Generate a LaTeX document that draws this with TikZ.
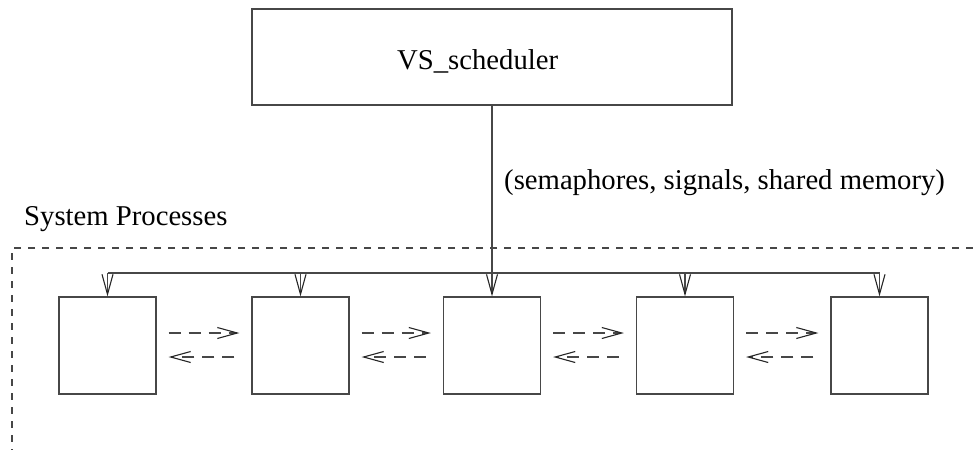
\documentclass[tikz,border=0pt]{standalone}
\usepackage{fontspec}
\setmainfont{Liberation Serif}
\usetikzlibrary{arrows.meta,calc}
\tikzset{
  ln/.style={draw=black!72, line width=1.2pt},
  pbox/.style={ln, minimum width=97pt, minimum height=97pt, inner sep=0pt},
  arr/.style={ln, -{Straight Barb[length=20pt,width=11pt,line width=1.1pt,color=black!85]}},
  darr/.style={arr, dash pattern=on 12pt off 8pt},
  border/.style={ln, dash pattern=on 7pt off 7pt},
  lbl/.style={inner sep=0pt, anchor=base west, font=\fontsize{28.7}{32}\selectfont}
}
\begin{document}
\begin{tikzpicture}[x=1pt,y=-1pt]
\useasboundingbox (0,0) rectangle (973,450);
\node[ln, minimum width=480pt, minimum height=96pt, inner sep=0pt] (sched) at (492,57) {};
\node[lbl] (schedtext) at (397,69) {VS\_scheduler};
\node[lbl] (ipc) at (504,189) {(semaphores, signals, shared memory)};
\node[lbl] (sysproc) at (24,225) {System Processes};
\draw[border] (973,248) -- (12,248) -- (12,450);
\node[pbox] (p1) at (107.5,345.5) {};
\node[pbox] (p2) at (300.5,345.5) {};
\node[pbox] (p3) at (492,345.5) {};
\node[pbox] (p4) at (685,345.5) {};
\node[pbox] (p5) at (879.5,345.5) {};
\coordinate (busL) at (107.5,273);
\coordinate (busR) at (879.5,273);
\draw[ln] (busL) -- (busR);
\draw[arr] (sched.south) -- (p3.north);
\foreach \p in {p1,p2,p4,p5}{
  \draw[arr] (\p.north |- busL) -- (\p.north);
}
\foreach \a/\b in {p1/p2,p2/p3,p3/p4,p4/p5}{
  \draw[darr] ($(\a.east)+(12,-12.5)$) -- ($(\b.west)+(-12,-12.5)$);
  \draw[darr] ($(\b.west)+(-17,11.5)$) -- ($(\a.east)+(12,11.5)$);
}
\end{tikzpicture}
\end{document}
